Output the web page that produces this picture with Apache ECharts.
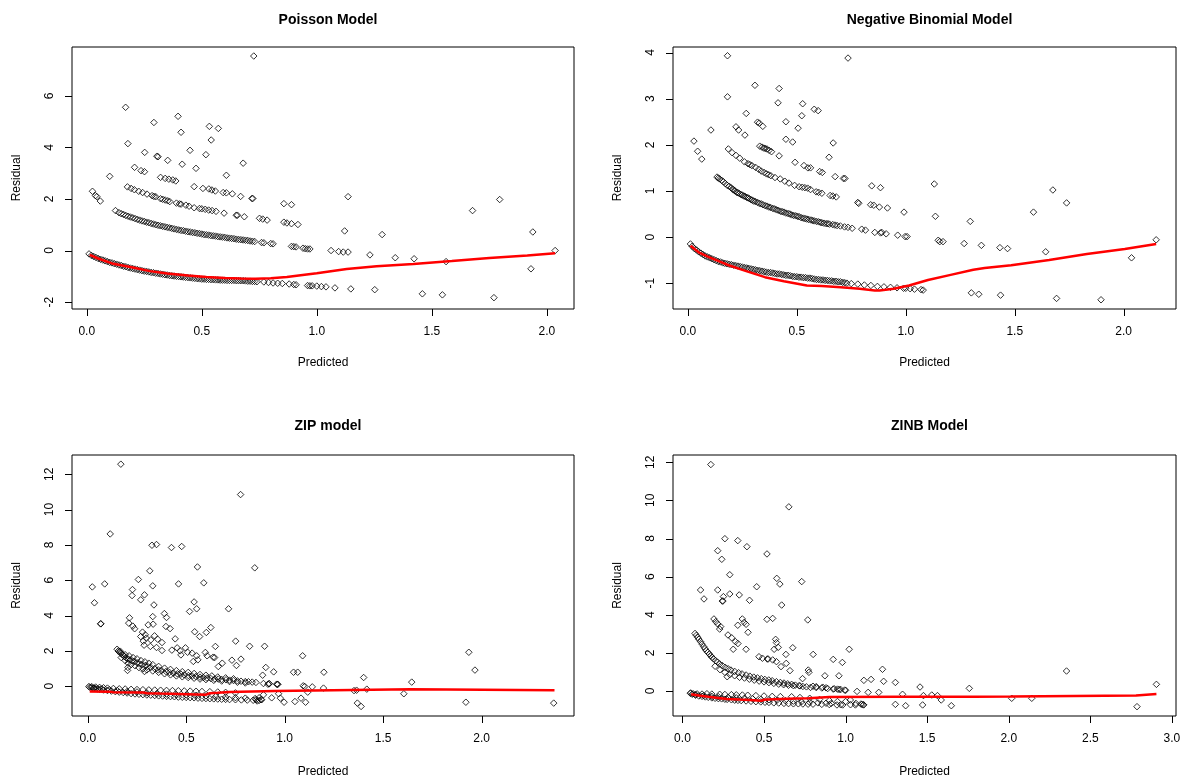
<!DOCTYPE html>
<html>
<head>
<meta charset="utf-8">
<title>Residual vs Predicted</title>
<script src="https://cdn.jsdelivr.net/npm/echarts@6/dist/echarts.min.js"></script>
<style>
html, body { margin: 0; padding: 0; background: #fff; }
#main { width: 1189px; height: 783px; }
</style>
</head>
<body>
<div id="main"></div>
<script>
// ---- Poisson model ----
var poissonZeroBand = [[0.01,-0.13],[0.02,-0.19],[0.03,-0.23],[0.04,-0.27],[0.05,-0.31],[0.06,-0.34],[0.07,-0.37],[0.08,-0.40],[0.09,-0.43],[0.10,-0.46],[0.11,-0.48],[0.12,-0.51],[0.13,-0.53],[0.14,-0.56],[0.15,-0.58],[0.16,-0.61],[0.17,-0.63],[0.18,-0.66],[0.19,-0.68],[0.20,-0.70],[0.21,-0.72],[0.22,-0.74],[0.23,-0.76],[0.24,-0.78],[0.25,-0.80],[0.26,-0.81],[0.27,-0.83],[0.28,-0.85],[0.29,-0.86],[0.30,-0.88],[0.31,-0.89],[0.32,-0.91],[0.33,-0.92],[0.34,-0.94],[0.35,-0.95],[0.36,-0.97],[0.37,-0.98],[0.38,-0.99],[0.39,-1.00],[0.40,-1.01],[0.41,-1.02],[0.42,-1.03],[0.43,-1.04],[0.44,-1.05],[0.45,-1.06],[0.46,-1.07],[0.47,-1.08],[0.48,-1.09],[0.49,-1.10],[0.50,-1.11],[0.51,-1.11],[0.52,-1.12],[0.53,-1.12],[0.54,-1.13],[0.55,-1.13],[0.56,-1.14],[0.57,-1.14],[0.58,-1.15],[0.59,-1.15],[0.60,-1.15],[0.61,-1.16],[0.62,-1.16],[0.63,-1.16],[0.64,-1.16],[0.65,-1.17],[0.66,-1.17],[0.67,-1.17],[0.68,-1.17],[0.69,-1.18],[0.70,-1.19],[0.71,-1.19],[0.72,-1.20],[0.73,-1.20],[0.74,-1.21],[0.77,-1.22],[0.79,-1.24],[0.81,-1.26],[0.83,-1.27],[0.85,-1.28],[0.88,-1.30],[0.90,-1.32],[0.91,-1.33],[0.96,-1.36],[0.97,-1.37],[0.98,-1.37],[1.00,-1.38],[1.02,-1.40],[1.04,-1.41]];
var poissonOneBand = [[0.125,1.55],[0.14,1.47],[0.15,1.43],[0.16,1.40],[0.17,1.36],[0.18,1.33],[0.19,1.30],[0.20,1.27],[0.21,1.24],[0.22,1.21],[0.23,1.18],[0.24,1.15],[0.25,1.13],[0.26,1.10],[0.27,1.08],[0.28,1.05],[0.29,1.03],[0.30,1.00],[0.31,0.98],[0.32,0.96],[0.33,0.94],[0.34,0.92],[0.35,0.90],[0.36,0.88],[0.37,0.86],[0.38,0.84],[0.39,0.82],[0.40,0.80],[0.41,0.78],[0.42,0.77],[0.43,0.75],[0.44,0.73],[0.45,0.72],[0.46,0.70],[0.47,0.69],[0.48,0.67],[0.49,0.66],[0.50,0.64],[0.51,0.62],[0.52,0.61],[0.53,0.60],[0.54,0.58],[0.55,0.57],[0.56,0.56],[0.57,0.54],[0.58,0.53],[0.59,0.52],[0.60,0.51],[0.61,0.49],[0.62,0.48],[0.63,0.47],[0.64,0.46],[0.65,0.44],[0.66,0.43],[0.67,0.42],[0.68,0.41],[0.69,0.40],[0.70,0.39],[0.71,0.37],[0.72,0.36],[0.73,0.35],[0.76,0.31],[0.77,0.30],[0.80,0.27],[0.81,0.26],[0.89,0.16],[0.90,0.15],[0.91,0.14],[0.94,0.09],[0.95,0.07],[0.96,0.06],[0.97,0.06]];
var poissonTwoBand = [[0.177,2.47],[0.193,2.41],[0.207,2.36],[0.226,2.30],[0.243,2.25],[0.262,2.19],[0.284,2.13],[0.292,2.10],[0.300,2.09],[0.321,2.01],[0.33,1.99],[0.341,1.96],[0.352,1.93],[0.361,1.90],[0.39,1.84],[0.403,1.81],[0.41,1.80],[0.431,1.76],[0.445,1.72],[0.467,1.66],[0.49,1.63],[0.50,1.62],[0.515,1.60],[0.53,1.57],[0.545,1.55],[0.562,1.52],[0.597,1.45],[0.65,1.37],[0.655,1.37],[0.685,1.31],[0.751,1.25],[0.765,1.22],[0.784,1.18],[0.857,1.10],[0.870,1.07],[0.890,1.04],[0.918,1.01]];
var poissonThreeBand = [[0.321,2.84],[0.341,2.80],[0.357,2.77],[0.374,2.74],[0.387,2.70],[0.467,2.48],[0.505,2.41],[0.531,2.39],[0.544,2.35],[0.559,2.31],[0.593,2.25],[0.607,2.24],[0.633,2.20],[0.669,2.10],[0.718,2.02],[0.722,2.02]];
var poissonOutliers = [[0.726,7.55],[0.169,5.56],[0.292,4.97],[0.397,5.21],[0.533,4.82],[0.572,4.74],[0.410,4.59],[0.541,4.29],[0.179,4.15],[0.252,3.81],[0.449,3.89],[0.518,3.72],[0.305,3.66],[0.310,3.64],[0.352,3.50],[0.415,3.35],[0.680,3.39],[0.208,3.23],[0.236,3.10],[0.251,3.06],[0.475,3.19],[0.100,2.88],[0.607,2.92],[0.025,2.30],[0.038,2.13],[0.044,2.09],[0.059,1.92],[0.857,1.82],[0.890,1.78],[1.121,0.76],[1.136,2.09],[1.284,0.62],[1.677,1.55],[1.795,1.98],[1.939,0.72],[2.036,0.0],[1.931,-0.71],[1.770,-1.83],[1.546,-1.72],[1.459,-1.68],[1.562,-0.43],[1.423,-0.32],[1.341,-0.28],[1.231,-0.17],[1.252,-1.52],[1.148,-1.49],[1.079,-1.45],[1.062,0.0],[1.095,-0.04],[1.115,-0.06],[1.136,-0.06]];
var poissonSmooth = [[0.013,-0.17],[0.05,-0.31],[0.11,-0.50],[0.2,-0.66],[0.275,-0.80],[0.35,-0.89],[0.44,-0.97],[0.52,-1.03],[0.60,-1.07],[0.67,-1.09],[0.734,-1.10],[0.80,-1.08],[0.87,-1.03],[0.93,-0.96],[1.0,-0.88],[1.13,-0.72],[1.26,-0.61],[1.42,-0.52],[1.587,-0.41],[1.75,-0.29],[1.915,-0.19],[2.036,-0.11]];

// ---- Negative binomial model ----
var negbinZeroBand = [[0.012,-0.15],[0.02,-0.20],[0.03,-0.25],[0.04,-0.28],[0.05,-0.32],[0.06,-0.35],[0.07,-0.38],[0.08,-0.41],[0.09,-0.43],[0.10,-0.45],[0.11,-0.47],[0.12,-0.49],[0.13,-0.51],[0.14,-0.53],[0.15,-0.54],[0.16,-0.56],[0.17,-0.57],[0.18,-0.58],[0.19,-0.59],[0.20,-0.60],[0.21,-0.61],[0.22,-0.62],[0.23,-0.63],[0.24,-0.64],[0.25,-0.65],[0.26,-0.66],[0.27,-0.67],[0.28,-0.68],[0.29,-0.69],[0.30,-0.70],[0.31,-0.71],[0.32,-0.72],[0.33,-0.73],[0.34,-0.74],[0.35,-0.75],[0.36,-0.76],[0.37,-0.77],[0.38,-0.77],[0.39,-0.78],[0.40,-0.79],[0.41,-0.80],[0.42,-0.80],[0.43,-0.81],[0.44,-0.82],[0.45,-0.83],[0.46,-0.83],[0.47,-0.84],[0.48,-0.85],[0.49,-0.86],[0.50,-0.86],[0.51,-0.87],[0.52,-0.87],[0.53,-0.88],[0.54,-0.88],[0.55,-0.89],[0.56,-0.89],[0.57,-0.90],[0.58,-0.91],[0.59,-0.92],[0.60,-0.92],[0.61,-0.93],[0.62,-0.93],[0.63,-0.94],[0.64,-0.94],[0.65,-0.95],[0.66,-0.95],[0.67,-0.96],[0.68,-0.96],[0.69,-0.97],[0.70,-0.97],[0.71,-0.98],[0.72,-0.99],[0.73,-1.00],[0.75,-1.01],[0.78,-1.02],[0.81,-1.04],[0.84,-1.05],[0.87,-1.07],[0.90,-1.08],[0.93,-1.09],[0.96,-1.10],[0.99,-1.11],[1.00,-1.11],[1.02,-1.12],[1.04,-1.13],[1.07,-1.14],[1.08,-1.15]];
var negbinOneBand = [[0.134,1.30],[0.14,1.28],[0.146,1.26],[0.155,1.23],[0.163,1.20],[0.172,1.16],[0.181,1.12],[0.19,1.10],[0.198,1.07],[0.205,1.04],[0.21,1.02],[0.217,1.00],[0.224,0.97],[0.23,0.96],[0.237,0.94],[0.244,0.92],[0.25,0.91],[0.257,0.89],[0.263,0.88],[0.27,0.86],[0.276,0.85],[0.283,0.83],[0.29,0.81],[0.296,0.80],[0.302,0.78],[0.31,0.77],[0.32,0.75],[0.328,0.73],[0.337,0.72],[0.345,0.70],[0.355,0.68],[0.363,0.67],[0.372,0.65],[0.38,0.64],[0.39,0.62],[0.398,0.61],[0.407,0.59],[0.415,0.58],[0.425,0.56],[0.433,0.55],[0.441,0.54],[0.45,0.52],[0.46,0.51],[0.468,0.50],[0.476,0.48],[0.485,0.47],[0.495,0.46],[0.503,0.45],[0.511,0.44],[0.52,0.42],[0.53,0.41],[0.538,0.40],[0.546,0.39],[0.555,0.38],[0.565,0.37],[0.572,0.36],[0.58,0.35],[0.59,0.34],[0.60,0.33],[0.608,0.32],[0.615,0.31],[0.625,0.30],[0.635,0.29],[0.643,0.29],[0.65,0.28],[0.665,0.27],[0.675,0.26],[0.685,0.25],[0.70,0.24],[0.719,0.22],[0.735,0.21],[0.754,0.19],[0.798,0.17],[0.815,0.15],[0.858,0.10],[0.884,0.09],[0.89,0.10],[0.91,0.07],[0.963,0.04],[0.997,0.01],[1.006,0.01]];
var negbinTwoBand = [[0.186,1.91],[0.203,1.83],[0.221,1.77],[0.238,1.71],[0.26,1.63],[0.276,1.59],[0.285,1.57],[0.294,1.55],[0.311,1.51],[0.325,1.47],[0.337,1.43],[0.35,1.40],[0.361,1.37],[0.371,1.35],[0.381,1.33],[0.40,1.29],[0.424,1.26],[0.445,1.21],[0.464,1.17],[0.49,1.12],[0.511,1.09],[0.525,1.08],[0.537,1.07],[0.55,1.06],[0.563,1.03],[0.589,0.98],[0.60,0.97],[0.615,0.95],[0.653,0.90],[0.665,0.89],[0.681,0.87]];
var negbinThreeBand = [[0.33,1.97],[0.34,1.95],[0.348,1.93],[0.355,1.92],[0.363,1.91],[0.373,1.88],[0.384,1.85]];
var negbinOutliers = [[0.182,3.93],[0.735,3.88],[0.182,3.04],[0.308,3.29],[0.419,3.22],[0.414,2.91],[0.527,2.89],[0.580,2.77],[0.598,2.74],[0.523,2.63],[0.268,2.68],[0.32,2.49],[0.328,2.47],[0.344,2.40],[0.45,2.50],[0.506,2.36],[0.221,2.39],[0.233,2.32],[0.262,2.21],[0.106,2.32],[0.028,2.08],[0.045,1.86],[0.064,1.69],[0.45,2.12],[0.481,2.06],[0.419,1.76],[0.667,2.04],[0.648,1.73],[0.492,1.62],[0.533,1.55],[0.551,1.50],[0.563,1.50],[0.605,1.42],[0.617,1.40],[0.676,1.31],[0.714,1.27],[0.721,1.27],[0.844,1.11],[0.884,1.07],[1.131,1.15],[1.675,1.02],[1.738,0.74],[1.586,0.54],[1.136,0.45],[1.296,0.34],[0.992,0.54],[0.916,0.63],[0.839,0.70],[0.853,0.69],[0.879,0.65],[0.78,0.75],[0.784,0.73],[2.149,-0.06],[2.036,-0.45],[1.642,-0.32],[1.467,-0.25],[1.432,-0.23],[1.347,-0.18],[1.268,-0.14],[1.149,-0.07],[1.156,-0.10],[1.171,-0.10],[1.301,-1.21],[1.335,-1.24],[1.435,-1.26],[1.692,-1.33],[1.896,-1.36]];
var negbinSmooth = [[0.012,-0.19],[0.05,-0.33],[0.094,-0.43],[0.181,-0.60],[0.268,-0.74],[0.354,-0.87],[0.441,-0.96],[0.546,-1.05],[0.615,-1.06],[0.702,-1.09],[0.789,-1.12],[0.858,-1.16],[0.88,-1.16],[0.945,-1.12],[1.015,-1.05],[1.102,-0.93],[1.206,-0.82],[1.31,-0.71],[1.362,-0.67],[1.484,-0.61],[1.658,-0.50],[1.831,-0.37],[2.005,-0.26],[2.149,-0.15]];

// ---- ZIP model ----
var zipZeroLow = [[0.006,-0.02],[0.01,-0.06],[0.02,-0.09],[0.03,-0.12],[0.04,-0.14],[0.05,-0.16],[0.06,-0.18],[0.08,-0.22],[0.10,-0.25],[0.12,-0.28],[0.14,-0.31],[0.16,-0.34],[0.18,-0.36],[0.20,-0.39],[0.22,-0.42],[0.24,-0.44],[0.26,-0.46],[0.28,-0.48],[0.30,-0.50],[0.32,-0.51],[0.34,-0.53],[0.36,-0.55],[0.38,-0.56],[0.40,-0.58],[0.42,-0.59],[0.44,-0.60],[0.46,-0.62],[0.48,-0.63],[0.50,-0.64],[0.52,-0.65],[0.54,-0.66],[0.56,-0.68],[0.58,-0.69],[0.60,-0.70],[0.62,-0.71],[0.64,-0.72],[0.66,-0.73],[0.68,-0.74],[0.70,-0.75],[0.72,-0.76],[0.75,-0.77],[0.78,-0.78],[0.81,-0.79],[0.84,-0.80],[0.87,-0.81],[0.86,-0.84],[0.88,-0.77]];
var zipZeroHigh = [[0.02,-0.03],[0.04,-0.05],[0.06,-0.07],[0.08,-0.09],[0.10,-0.11],[0.13,-0.13],[0.16,-0.15],[0.19,-0.16],[0.22,-0.18],[0.25,-0.19],[0.28,-0.20],[0.31,-0.21],[0.34,-0.22],[0.37,-0.23],[0.40,-0.24],[0.43,-0.25],[0.46,-0.26],[0.49,-0.27],[0.52,-0.28],[0.55,-0.29],[0.58,-0.30],[0.62,-0.31],[0.66,-0.33],[0.70,-0.35],[0.75,-0.38]];
var zipZeroMid = [[0.03,-0.10],[0.07,-0.16],[0.11,-0.20],[0.15,-0.25],[0.20,-0.30],[0.25,-0.33],[0.30,-0.38],[0.35,-0.42],[0.40,-0.45],[0.45,-0.48],[0.50,-0.50],[0.55,-0.52],[0.60,-0.55],[0.65,-0.58],[0.70,-0.62],[0.75,-0.65],[0.80,-0.68],[0.85,-0.70]];
var zipOneBand = [[0.149,2.09],[0.155,1.99],[0.16,1.95],[0.168,1.87],[0.175,1.80],[0.18,1.74],[0.187,1.68],[0.195,1.60],[0.206,1.53],[0.215,1.48],[0.225,1.44],[0.235,1.40],[0.25,1.33],[0.263,1.26],[0.275,1.22],[0.292,1.17],[0.305,1.11],[0.32,1.06],[0.34,0.99],[0.358,0.92],[0.375,0.88],[0.397,0.83],[0.415,0.78],[0.435,0.74],[0.455,0.70],[0.473,0.68],[0.49,0.64],[0.511,0.60],[0.53,0.57],[0.549,0.55],[0.57,0.51],[0.587,0.49],[0.605,0.46],[0.625,0.43],[0.645,0.41],[0.663,0.40],[0.68,0.38],[0.702,0.36],[0.72,0.34],[0.74,0.32],[0.76,0.30],[0.778,0.28],[0.80,0.26],[0.816,0.25],[0.835,0.23],[0.854,0.21],[0.892,0.15],[0.921,0.13],[0.959,0.11],[0.965,0.10]];
var zipOneSpread = [[0.165,1.98],[0.19,1.78],[0.21,1.72],[0.23,1.62],[0.25,1.55],[0.27,1.45],[0.29,1.38],[0.31,1.30],[0.33,1.22],[0.36,1.12],[0.39,1.02],[0.42,0.95],[0.45,0.88],[0.48,0.82],[0.51,0.78],[0.54,0.72],[0.57,0.66],[0.60,0.62],[0.63,0.58],[0.66,0.52],[0.70,0.47],[0.74,0.42],[0.17,1.62],[0.19,1.45],[0.205,1.30],[0.22,1.22],[0.24,1.16],[0.26,1.05],[0.28,0.98],[0.30,0.92],[0.33,0.86],[0.36,0.78],[0.39,0.70],[0.42,0.64],[0.45,0.58],[0.48,0.53],[0.51,0.49],[0.54,0.45],[0.57,0.40],[0.60,0.37],[0.64,0.33],[0.68,0.29],[0.72,0.26],[0.76,0.22],[0.80,0.18]];
var zipOutliers = [[0.168,12.57],[0.776,10.85],[0.114,8.62],[0.326,7.98],[0.349,8.02],[0.425,7.85],[0.477,7.91],[0.848,6.70],[0.315,6.53],[0.557,6.75],[0.257,6.04],[0.086,5.79],[0.023,5.62],[0.33,5.68],[0.461,5.79],[0.589,5.85],[0.227,5.47],[0.225,5.13],[0.288,5.17],[0.269,4.89],[0.034,4.72],[0.336,4.60],[0.54,4.77],[0.553,4.38],[0.517,4.23],[0.715,4.38],[0.389,4.11],[0.40,3.89],[0.33,3.94],[0.212,3.87],[0.208,3.57],[0.229,3.40],[0.238,3.25],[0.065,3.53],[0.067,3.53],[0.307,3.47],[0.332,3.51],[0.397,3.38],[0.418,3.26],[0.625,3.32],[0.602,3.04],[0.543,3.08],[0.568,2.81],[0.278,3.06],[0.292,2.91],[0.297,2.72],[0.269,2.81],[0.282,2.55],[0.286,2.32],[0.32,2.62],[0.339,2.85],[0.355,2.66],[0.377,2.47],[0.444,2.68],[0.648,2.25],[0.751,2.55],[0.822,2.26],[0.898,2.26],[0.427,2.04],[0.454,2.17],[0.469,2.00],[0.496,2.17],[0.507,1.92],[0.53,1.87],[0.553,1.72],[0.606,1.72],[0.473,1.77],[0.597,1.91],[0.637,1.64],[0.644,1.62],[0.732,1.47],[0.778,1.53],[0.377,2.02],[0.318,2.25],[0.349,2.19],[0.536,1.40],[0.559,1.49],[0.683,1.30],[0.663,1.11],[0.755,1.17],[1.091,1.72],[0.904,1.06],[0.944,0.81],[1.045,0.79],[1.066,0.79],[1.199,0.79],[0.888,0.62],[1.401,0.49],[1.645,0.23],[1.935,1.92],[1.966,0.91],[0.202,0.89],[0.204,1.06],[0.288,0.83],[2.366,-0.96],[1.92,-0.91],[1.605,-0.43],[1.369,-0.96],[1.388,-1.15],[1.417,-0.17],[1.352,-0.25],[1.365,-0.23],[1.197,-0.11],[1.14,-0.04],[1.117,-0.34],[1.094,0.02],[1.102,-0.02],[1.106,-0.91],[1.083,-0.68],[1.052,-0.87],[0.997,-0.91],[0.978,-0.68],[0.963,0.11],[0.915,0.11],[0.921,0.15],[0.934,-0.66],[0.969,-0.43],[0.892,-0.49],[0.883,-0.77],[0.854,-0.77],[0.87,-0.66]];
var zipSmooth = [[0.01,-0.30],[0.11,-0.31],[0.13,-0.34],[0.28,-0.36],[0.30,-0.40],[0.37,-0.42],[0.38,-0.46],[0.60,-0.48],[0.62,-0.40],[0.66,-0.38],[0.72,-0.33],[0.72,-0.30],[0.95,-0.28],[0.96,-0.20],[1.64,-0.17],[1.65,-0.23],[2.37,-0.23]];

// ---- ZINB model ----
var zinbZeroLow = [[0.049,-0.12],[0.06,-0.17],[0.08,-0.22],[0.10,-0.26],[0.12,-0.28],[0.14,-0.31],[0.158,-0.33],[0.18,-0.36],[0.20,-0.38],[0.22,-0.40],[0.24,-0.41],[0.26,-0.43],[0.274,-0.44],[0.30,-0.46],[0.32,-0.48],[0.34,-0.49],[0.36,-0.50],[0.39,-0.52],[0.42,-0.54],[0.45,-0.56],[0.48,-0.57],[0.506,-0.59],[0.53,-0.60],[0.56,-0.62],[0.59,-0.63],[0.622,-0.65],[0.65,-0.66],[0.68,-0.67],[0.71,-0.67],[0.738,-0.68],[0.77,-0.69],[0.80,-0.69],[0.854,-0.70],[0.90,-0.71],[0.97,-0.72],[1.03,-0.72],[1.06,-0.73],[1.11,-0.73],[1.10,-0.70]];
var zinbZeroHigh = [[0.05,-0.10],[0.065,-0.14],[0.09,-0.15],[0.12,-0.16],[0.15,-0.14],[0.18,-0.16],[0.228,-0.17],[0.26,-0.18],[0.30,-0.19],[0.33,-0.20],[0.367,-0.21],[0.40,-0.22],[0.45,-0.24],[0.50,-0.26],[0.55,-0.28],[0.60,-0.29],[0.669,-0.30],[0.72,-0.34],[0.78,-0.38],[0.84,-0.44],[0.90,-0.50],[0.95,-0.55],[1.0,-0.55]];
var zinbZeroMid = [[0.08,-0.18],[0.13,-0.24],[0.18,-0.28],[0.22,-0.30],[0.28,-0.33],[0.33,-0.36],[0.38,-0.38],[0.43,-0.41],[0.48,-0.44],[0.53,-0.46],[0.58,-0.48],[0.63,-0.50],[0.68,-0.53],[0.73,-0.56],[0.78,-0.59],[0.83,-0.62],[0.88,-0.64]];
var zinbOneBand = [[0.077,3.02],[0.085,2.92],[0.093,2.82],[0.10,2.72],[0.111,2.59],[0.12,2.46],[0.13,2.33],[0.138,2.22],[0.146,2.12],[0.155,2.03],[0.165,1.94],[0.173,1.85],[0.181,1.77],[0.19,1.69],[0.204,1.59],[0.215,1.51],[0.228,1.42],[0.245,1.33],[0.262,1.24],[0.28,1.17],[0.297,1.10],[0.32,1.03],[0.344,0.96],[0.365,0.90],[0.39,0.84],[0.413,0.78],[0.437,0.73],[0.46,0.69],[0.483,0.65],[0.505,0.61],[0.529,0.58],[0.55,0.54],[0.576,0.49],[0.60,0.45],[0.622,0.42],[0.645,0.38],[0.669,0.35],[0.692,0.31],[0.715,0.28],[0.738,0.24],[0.76,0.22],[0.785,0.19],[0.82,0.18],[0.854,0.16],[0.89,0.13],[0.924,0.10],[0.96,0.08],[0.994,0.05]];
var zinbOneSpread = [[0.20,1.30],[0.23,1.12],[0.26,0.98],[0.274,0.75],[0.29,0.86],[0.32,0.80],[0.35,0.72],[0.38,0.68],[0.41,0.62],[0.44,0.57],[0.47,0.52],[0.50,0.48],[0.53,0.44],[0.56,0.40],[0.59,0.36],[0.62,0.33],[0.65,0.30],[0.68,0.28],[0.72,0.27],[0.80,0.25],[0.82,0.23],[0.86,0.20],[0.88,0.17],[0.93,0.12],[0.95,0.10],[0.97,0.08],[1.0,0.04]];
var zinbOutliers = [[0.174,11.88],[0.652,9.66],[0.26,7.99],[0.339,7.89],[0.395,7.57],[0.216,7.36],[0.518,7.19],[0.241,6.91],[0.29,6.10],[0.578,5.91],[0.597,5.61],[0.731,5.74],[0.455,5.47],[0.111,5.30],[0.216,5.30],[0.29,5.09],[0.348,5.04],[0.251,4.95],[0.244,4.72],[0.248,4.72],[0.132,4.83],[0.411,4.76],[0.608,4.51],[0.768,3.73],[0.518,3.76],[0.553,3.81],[0.193,3.78],[0.204,3.64],[0.216,3.52],[0.234,3.38],[0.228,3.25],[0.367,3.78],[0.378,3.60],[0.39,3.50],[0.402,3.08],[0.339,3.45],[0.279,2.94],[0.302,2.79],[0.325,2.59],[0.34,2.49],[0.311,2.19],[0.39,2.19],[0.571,2.71],[0.576,2.54],[0.587,2.29],[0.562,2.19],[0.676,2.27],[0.634,1.92],[0.801,1.92],[1.022,2.19],[0.924,1.66],[0.98,1.50],[0.959,0.80],[0.873,0.80],[0.771,1.10],[0.775,0.98],[0.736,0.65],[0.469,1.80],[0.49,1.72],[0.52,1.68],[0.553,1.63],[0.525,1.68],[0.576,1.54],[0.604,1.28],[0.636,1.45],[0.659,1.07],[1.226,1.14],[1.112,0.56],[1.156,0.61],[1.233,0.51],[1.305,0.45],[1.456,0.21],[1.758,0.14],[2.354,1.05],[2.905,0.35],[2.786,-0.82],[2.018,-0.38],[2.141,-0.38],[1.648,-0.77],[1.586,-0.47],[1.563,-0.24],[1.528,-0.21],[1.477,-0.24],[1.472,-0.73],[1.368,-0.77],[1.349,-0.17],[1.305,-0.70],[1.203,-0.07],[1.138,-0.07],[1.07,-0.02],[1.11,-0.72],[1.094,-0.68],[1.063,-0.65],[1.029,-0.47],[0.982,-0.73],[0.947,-0.73],[0.912,-0.65]];
var zinbSmooth = [[0.053,-0.17],[0.10,-0.23],[0.158,-0.30],[0.22,-0.36],[0.274,-0.42],[0.35,-0.45],[0.413,-0.47],[0.483,-0.51],[0.50,-0.46],[0.518,-0.44],[0.645,-0.40],[0.70,-0.39],[0.773,-0.38],[0.78,-0.32],[0.9,-0.31],[1.319,-0.30],[1.783,-0.30],[2.015,-0.29],[2.02,-0.23],[2.78,-0.23],[2.79,-0.16],[2.905,-0.16]];

// titles and tick labels
var panelTitles = ['Poisson Model', 'Negative Binomial Model', 'ZIP model', 'ZINB Model'];
var xTicksShort = [0, 0.5, 1, 1.5, 2];
var xTicksLong = [0, 0.5, 1, 1.5, 2, 2.5, 3];
var yTicksPoisson = [-2, 0, 2, 4, 6];
var yTicksNegbin = [-1, 0, 1, 2, 3, 4];
var yTicksZero = [0, 2, 4, 6, 8, 10, 12];

var panels = [
	{ grid: { left: 72, top: 47, width: 502, height: 262 }, xMin: -0.064, xMax: 2.118, yMin: -2.27, yMax: 7.9,
	  xTicks: xTicksShort, yTicks: yTicksPoisson,
	  points: [].concat(poissonZeroBand, poissonOneBand, poissonTwoBand, poissonThreeBand, poissonOutliers), smooth: poissonSmooth },
	{ grid: { left: 673, top: 47, width: 503, height: 262 }, xMin: -0.068, xMax: 2.24, yMin: -1.56, yMax: 4.12,
	  xTicks: xTicksShort, yTicks: yTicksNegbin,
	  points: [].concat(negbinZeroBand, negbinOneBand, negbinTwoBand, negbinThreeBand, negbinOutliers), smooth: negbinSmooth },
	{ grid: { left: 72, top: 455, width: 502, height: 261 }, xMin: -0.08, xMax: 2.469, yMin: -1.69, yMax: 13.09,
	  xTicks: xTicksShort, yTicks: yTicksZero,
	  points: [].concat(zipZeroLow, zipZeroHigh, zipZeroMid, zipOneBand, zipOneSpread, zipOutliers), smooth: zipSmooth },
	{ grid: { left: 673, top: 455, width: 503, height: 261 }, xMin: -0.058, xMax: 3.025, yMin: -1.31, yMax: 12.38,
	  xTicks: xTicksLong, yTicks: yTicksZero,
	  points: [].concat(zinbZeroLow, zinbZeroHigh, zinbZeroMid, zinbOneBand, zinbOneSpread, zinbOutliers), smooth: zinbSmooth }
];

var font = 'Liberation Sans, Arial, sans-serif';
var TICK_LEN = 7;
var option = { animation: false, title: [], grid: [], xAxis: [], yAxis: [], series: [] };

for (var i = 0; i < panels.length; i++) {
	var p = panels[i];
	var bottomRow = i >= 2;
	option.title.push({
		text: panelTitles[i],
		left: p.grid.left + p.grid.width / 2,
		top: bottomRow ? 414 : 8,
		textAlign: 'center',
		textStyle: { fontFamily: font, fontSize: 14, fontWeight: 'bold', color: '#000' }
	});
	option.grid.push({
		left: p.grid.left, top: p.grid.top, width: p.grid.width, height: p.grid.height,
		show: true, borderColor: '#000', borderWidth: 1, backgroundColor: 'transparent'
	});
	option.xAxis.push({
		type: 'value', gridIndex: i, min: p.xMin, max: p.xMax, position: 'bottom',
		name: 'Predicted', nameLocation: 'middle', nameGap: bottomRow ? 50 : 48,
		nameTextStyle: { fontFamily: font, fontSize: 12, color: '#000' },
		axisLine: { show: false, onZero: false },
		splitLine: { show: false },
		axisTick: { show: false },
		axisLabel: {
			customValues: p.xTicks, margin: 17, fontFamily: font, fontSize: 12, color: '#000',
			formatter: function (v) { return v.toFixed(1); }
		}
	});
	option.yAxis.push({
		type: 'value', gridIndex: i, min: p.yMin, max: p.yMax, position: 'left',
		name: 'Residual', nameLocation: 'middle', nameGap: 49, nameRotate: 90,
		nameTextStyle: { fontFamily: font, fontSize: 12, color: '#000' },
		axisLine: { show: false, onZero: false },
		splitLine: { show: false },
		axisTick: { show: false },
		axisLabel: {
			customValues: p.yTicks, margin: 16, rotate: 90, fontFamily: font, fontSize: 12, color: '#000',
			formatter: function (v) { return String(v); }
		}
	});
	option.series.push({
		type: 'scatter', xAxisIndex: i, yAxisIndex: i,
		data: p.points,
		symbol: 'diamond', symbolSize: 6.5,
		itemStyle: { color: 'rgba(0,0,0,0)', borderColor: '#000', borderWidth: 1 },
		emphasis: { disabled: true },
		z: 2
	});
	option.series.push({
		type: 'line', xAxisIndex: i, yAxisIndex: i,
		data: p.smooth,
		showSymbol: false, symbol: 'none',
		lineStyle: { color: '#ff0000', width: 2.5 },
		emphasis: { disabled: true },
		z: 3
	});
}

var myChart = echarts.init(document.getElementById('main'));
myChart.setOption(option);

// R style outward tick marks, positioned with each axis' own scale
try {
	var tickMarks = [];
	panels.forEach(function (p, i) {
		var yEdge = Math.round(myChart.convertToPixel({ yAxisIndex: i }, p.yMin));
		var xEdge = Math.round(myChart.convertToPixel({ xAxisIndex: i }, p.xMin));
		p.xTicks.forEach(function (v) {
			var x = Math.round(myChart.convertToPixel({ xAxisIndex: i }, v)) + 0.5;
			tickMarks.push({ type: 'line', silent: true, z: 100,
				shape: { x1: x, y1: yEdge, x2: x, y2: yEdge + TICK_LEN },
				style: { stroke: '#000', lineWidth: 1 } });
		});
		p.yTicks.forEach(function (v) {
			var y = Math.round(myChart.convertToPixel({ yAxisIndex: i }, v)) + 0.5;
			tickMarks.push({ type: 'line', silent: true, z: 100,
				shape: { x1: xEdge, y1: y, x2: xEdge - TICK_LEN, y2: y },
				style: { stroke: '#000', lineWidth: 1 } });
		});
	});
	myChart.setOption({ graphic: { elements: tickMarks } });
} catch (e) {
	console.log(e);
}
</script>
</body>
</html>
